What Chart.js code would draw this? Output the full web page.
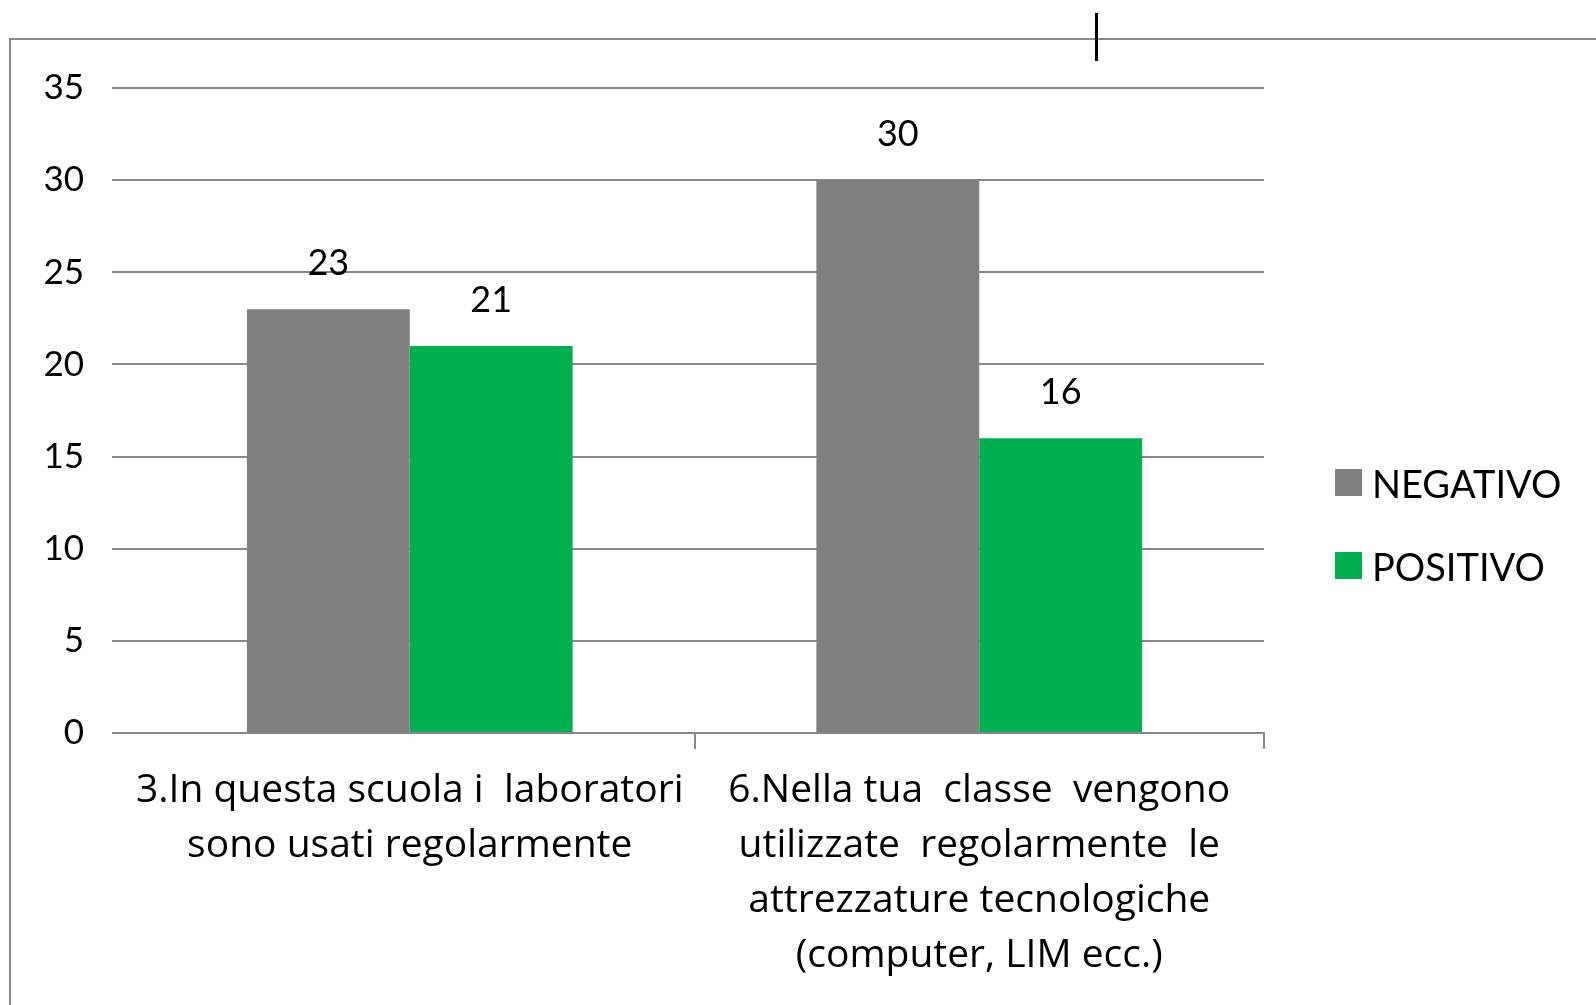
<!DOCTYPE html>
<html>
<head>
<meta charset="utf-8">
<script src="https://cdn.jsdelivr.net/npm/chart.js@4.4.1/dist/chart.umd.min.js"></script>
<style>
  html, body { margin: 0; padding: 0; background: #fff; }
  #wrap { position: relative; width: 1596px; height: 1005px; overflow: hidden; }
  #chart { position: absolute; left: 0; top: 0; }
  .frame { position: absolute; left: 9px; top: 38px; width: 1700px; height: 1100px;
           border-left: 2px solid #888; border-top: 2px solid #888; pointer-events: none; }
  .mark { position: absolute; left: 1095px; top: 13px; width: 3px; height: 48px; background: #000; }
  #legend { position: absolute; left: 1335px; top: 465px; font-family: Lato, sans-serif; font-size: 38px; color: #000; }
  #legend .item { display: flex; align-items: center; height: 35px; margin-bottom: 48px; }
  #legend .box { width: 27px; height: 27px; margin-right: 10px; }
</style>
</head>
<body>
<div id="wrap">
  <canvas id="chart" width="1596" height="1005"></canvas>
  <div class="frame"></div>
  <div class="mark"></div>
  <div id="legend"></div>
</div>
<script>
// chart data
const categories = [
  ['3.In questa scuola i  laboratori', 'sono usati regolarmente'],
  ['6.Nella tua  classe  vengono', 'utilizzate  regolarmente  le', 'attrezzature tecnologiche', '(computer, LIM ecc.)']
];
const seriesNames = ['NEGATIVO', 'POSITIVO'];
const negativo = [23, 30];
const positivo = [21, 16];
const yTicks = [0, 5, 10, 15, 20, 25, 30, 35];

const colors = ['#808080', '#00b050'];
const gridColor = '#878787';

// value labels above the bars
const valueLabels = {
  id: 'valueLabels',
  afterDatasetsDraw(chart) {
    const ctx = chart.ctx;
    ctx.save();
    ctx.font = '36px Lato';
    ctx.fillStyle = '#000';
    ctx.textAlign = 'center';
    ctx.textBaseline = 'middle';
    chart.data.datasets.forEach((ds, i) => {
      chart.getDatasetMeta(i).data.forEach((bar, j) => {
        ctx.fillText(String(ds.data[j]), bar.x, bar.y - 46);
      });
    });
    ctx.restore();
  }
};

function draw() {
  Chart.defaults.font.family = 'Lato';
  Chart.defaults.color = '#000';

  const chart = new Chart(document.getElementById('chart'), {
    type: 'bar',
    data: {
      labels: categories,
      datasets: [
        { label: seriesNames[0], data: negativo, backgroundColor: colors[0] },
        { label: seriesNames[1], data: positivo, backgroundColor: colors[1] }
      ]
    },
    options: {
      responsive: false,
      animation: false,
      events: [],
      layout: { padding: { left: 0, top: 88, right: 332, bottom: 0 } },
      datasets: { bar: { barPercentage: 1, categoryPercentage: 0.572 } },
      plugins: { legend: { display: false }, tooltip: { enabled: false } },
      scales: {
        x: {
          grid: {
            offset: true,
            drawOnChartArea: false,
            drawTicks: true,
            tickLength: 16,
            lineWidth: 2,
            color: ctx => ctx.index === 0 ? 'rgba(0,0,0,0)' : gridColor
          },
          border: { display: true, color: gridColor, width: 2 },
          ticks: {
            font: { family: 'Open Sans', size: 39, lineHeight: 1.41 },
            padding: 14, maxRotation: 0, autoSkip: false
          },
          afterFit: s => { s.height = 272; }
        },
        y: {
          min: 0,
          max: yTicks[yTicks.length - 1],
          afterBuildTicks: s => { s.ticks = yTicks.map(v => ({ value: v })); },
          grid: { color: gridColor, lineWidth: 2, drawTicks: true, tickLength: 13 },
          border: { display: false },
          ticks: { font: { size: 35 }, padding: 28 },
          afterFit: s => { s.width = 125; }
        }
      }
    },
    plugins: [valueLabels]
  });

  // legend from the datasets
  const legend = document.getElementById('legend');
  chart.data.datasets.forEach(ds => {
    const item = document.createElement('div');
    item.className = 'item';
    item.innerHTML = `<span class="box" style="background:${ds.backgroundColor}"></span><span>${ds.label}</span>`;
    legend.appendChild(item);
  });
}

Promise.all([document.fonts.load('36px Lato'), document.fonts.load('39px "Open Sans"')]).then(draw, draw);
</script>
</body>
</html>
